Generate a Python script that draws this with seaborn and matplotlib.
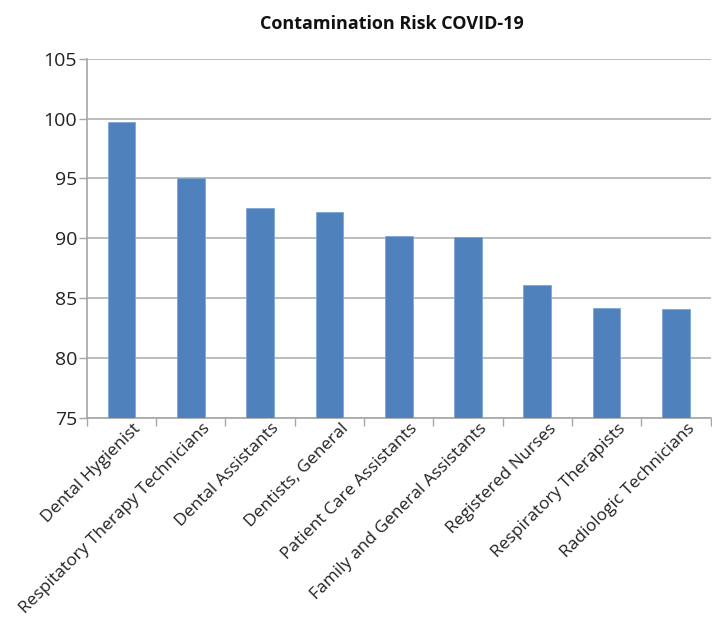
import matplotlib
matplotlib.use('Agg')
import matplotlib.pyplot as plt
import matplotlib.transforms as mtransforms
import seaborn as sns
import pandas as pd

occupations = [
    'Dental Hygienist',
    'Respitatory Therapy Technicians',
    'Dental Assistants',
    'Dentists, General',
    'Patient Care Assistants',
    'Family and General Assistants',
    'Registered Nurses',
    'Respiratory Therapists',
    'Radiologic Technicians',
]
risk = [99.7, 95.0, 92.5, 92.2, 90.2, 90.1, 86.1, 84.2, 84.1]
y_ticks = [75, 80, 85, 90, 95, 100, 105]

df = pd.DataFrame({'occupation': occupations, 'risk': risk})

sns.set_theme(style='white')
plt.rcParams['font.family'] = ['Open Sans', 'DejaVu Sans']

fig = plt.figure(figsize=(7.12, 6.19), dpi=100)
ax = fig.add_axes([0.122, 0.325, 0.876, 0.580])

sns.barplot(data=df, x='occupation', y='risk', color='#4F81BD', width=0.4,
            edgecolor='#7FA6D6', linewidth=0.6, saturation=1, ax=ax, zorder=3)

ax.set_ylim(75, 105)
ax.set_yticks(y_ticks)
ax.set_xlim(-0.5, len(occupations) - 0.5)
ax.yaxis.grid(True, color='#B8B8B8', linewidth=1.3, zorder=0)
ax.set_axisbelow(True)

for side in ['top', 'right']:
    ax.spines[side].set_visible(False)
for side in ['left', 'bottom']:
    ax.spines[side].set_color('#A6A6A6')
    ax.spines[side].set_linewidth(1.2)

# tick marks on category boundaries
ax.set_xticks([i - 0.5 for i in range(len(occupations) + 1)], minor=True)
ax.tick_params(axis='x', which='minor', length=6, color='#A6A6A6', width=1.0, bottom=True)
ax.tick_params(axis='x', which='major', length=0, pad=2)
ax.tick_params(axis='y', which='major', length=6, color='#A6A6A6', width=1.0, left=True,
               labelsize=14, labelcolor='#222222', pad=1)

ax.set_xticks(range(len(occupations)))
ax.set_xticklabels(occupations, rotation=45, ha='right', rotation_mode='anchor',
                   fontsize=12.5, color='#222222')
offset = mtransforms.ScaledTranslation(11 / 100, 0, fig.dpi_scale_trans)
for lbl in ax.get_xticklabels():
    lbl.set_transform(lbl.get_transform() + offset)

ax.set_xlabel('')
ax.set_ylabel('')
fig.text(0.551, 0.962, 'Contamination Risk COVID-19', ha='center', va='center',
         fontsize=13, fontweight='bold', color='#111111')

fig.savefig('out.png', dpi=100)
